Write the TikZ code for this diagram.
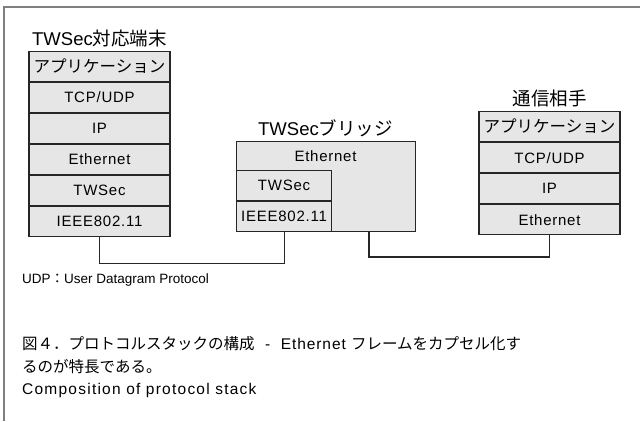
\documentclass[tikz,border=0pt]{standalone}
\usepackage{fontspec}
\setmainfont{Liberation Sans}
\newfontfamily\jp{Noto Sans CJK JP}
\usetikzlibrary{positioning}
\definecolor{layerfill}{HTML}{E6E6E6}
\definecolor{framegray}{HTML}{7F7F7F}
\tikzset{
  layer/.style={draw=black!85, line width=1.1pt, fill=layerfill, minimum width=141pt,
    minimum height=30pt, inner sep=0pt, font=\fontsize{15}{15}\selectfont\addfontfeature{LetterSpace=5}},
  stacktitle/.style={inner sep=0pt, font=\fontsize{18.5}{18}\selectfont},
  link/.style={draw=black!85, line width=1.1pt},
  note/.style={inner sep=0pt, anchor=west, font=\fontsize{13.5}{14}\selectfont},
  caption/.style={inner sep=0pt, anchor=west, align=left, font=\fontsize{15.5}{23.5}\selectfont}
}
\begin{document}
\begin{tikzpicture}[x=1pt,y=-1pt]
  \useasboundingbox (0,0) rectangle (640,421);
  \draw[framegray, line width=1.5pt] (4,421) -- (4,7) -- (640,7);

  \node[stacktitle] (termtitle) at (99.5,38) {TWSec{\jp 対応端末}};
  \node[layer, anchor=north] (appL) at (99.5,50.5) {{\jp\fontsize{16.5}{16}\selectfont アプリケーション}};
  \node[layer, below=0pt of appL] (tcpL) {TCP/UDP};
  \node[layer, below=0pt of tcpL] (ipL) {IP};
  \node[layer, below=0pt of ipL] (ethL) {Ethernet};
  \node[layer, below=0pt of ethL] (twsecL) {TWSec};
  \node[layer, below=0pt of twsecL] (ieeeL) {IEEE802.11};

  \node[stacktitle] (bridgetitle) at (325.5,128) {TWSec{\jp ブリッジ}};
  \node[layer, minimum width=179pt, minimum height=90pt, anchor=north west] (ethB) at (236,141) {};
  \node[layer, minimum width=95pt, anchor=south west] (ieeeB) at (ethB.south west) {IEEE802.11};
  \node[layer, minimum width=95pt, above=0pt of ieeeB] (twsecB) {TWSec};
  \node[inner sep=0pt, font=\fontsize{15}{15}\selectfont\addfontfeature{LetterSpace=5}] (ethBtext) at (325.5,156) {Ethernet};
  \coordinate (bridgeport) at (369,231);

  \node[stacktitle] (peertitle) at (549.5,98) {{\jp 通信相手}};
  \node[layer, anchor=north] (appR) at (549.5,111) {{\jp\fontsize{16.5}{16}\selectfont アプリケーション}};
  \node[layer, below=0pt of appR] (tcpR) {TCP/UDP};
  \node[layer, below=0pt of tcpR] (ipR) {IP};
  \node[layer, below=0pt of ipR] (ethR) {Ethernet};

  \draw[link] (ieeeL.south) -- ++(0,26) -| (ieeeB.south);
  \draw[link] (bridgeport) -- ++(0,26) -| (ethR.south);

  \node[note] (udpnote) at (22,280) {UDP{\jp ：}User Datagram Protocol};
  \node[caption] (captionjp) at (22,355) {{\jp 図４．プロトコルスタックの構成}\addfontfeature{LetterSpace=6}\ \ -\ \ Ethernet {\jp フレームをカプセル化す}\\{\jp るのが特長である。}};
  \node[caption, font=\fontsize{15.5}{16}\selectfont\addfontfeature{LetterSpace=8}] (captionen) at (22,390) {Composition of protocol stack};
\end{tikzpicture}
\end{document}
